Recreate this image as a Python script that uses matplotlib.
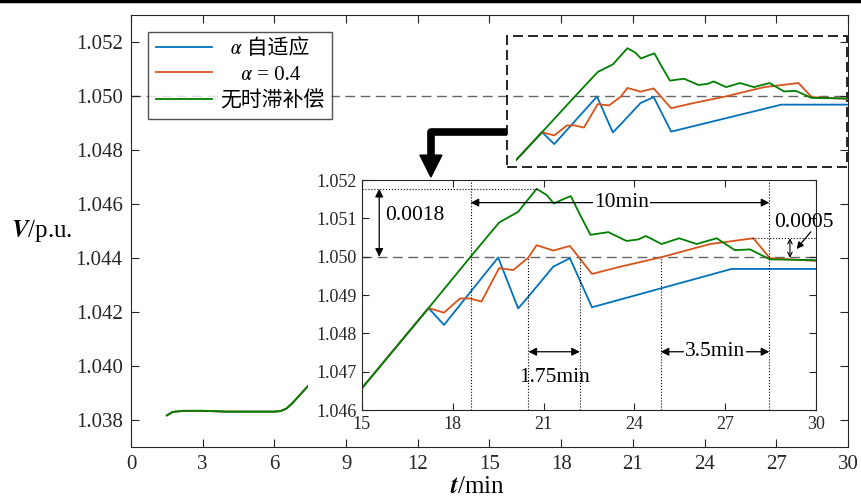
import matplotlib
matplotlib.use('Agg')
import matplotlib.pyplot as plt
from matplotlib.patches import Rectangle, Polygon

plt.rcParams['font.family'] = ['Liberation Serif', 'STIXGeneral', 'Noto Sans CJK SC']
plt.rcParams['mathtext.fontset'] = 'stix'

# Voltage at the bus (p.u.) against time (min)
t_blue = [1.5, 1.75, 2.2, 3.0, 4.0, 5.0, 6.0, 6.25, 6.5, 6.75, 7.4, 15.0, 17.2,
          17.71, 19.5, 20.16, 20.5, 21.32, 21.87, 22.6, 24.86, 27.21, 30.0]
v_blue = [1.03817, 1.03830, 1.03834, 1.03834, 1.03831, 1.03831, 1.03831, 1.03833,
          1.03842, 1.03862, 1.03925, 1.04657, 1.04866,
          1.04822, 1.04998, 1.04865, 1.04896, 1.04974, 1.04996, 1.04868, 1.04917,
          1.04968, 1.04968]

t_orange = [1.5, 1.75, 2.2, 3.0, 4.0, 5.0, 6.0, 6.25, 6.5, 6.75, 7.4, 15.0, 17.2,
            17.71, 18.24, 18.57, 18.95, 19.53, 20.0, 20.5, 20.77, 21.32, 21.87,
            22.6, 23.54, 24.86, 26.5, 27.93, 28.48, 30.0]
v_orange = [1.03817, 1.03830, 1.03834, 1.03834, 1.03831, 1.03831, 1.03831, 1.03833,
            1.03842, 1.03862, 1.03925, 1.04657, 1.04866,
            1.04854, 1.04891, 1.04891, 1.04883, 1.04970, 1.04965, 1.04998, 1.05030,
            1.05016, 1.05028, 1.04955, 1.04974, 1.04998, 1.05033, 1.05048, 1.04996,
            1.04989]

t_green = [1.5, 1.75, 2.2, 3.0, 4.0, 5.0, 6.0, 6.25, 6.5, 6.75, 7.4, 15.0, 17.2,
           18.59, 19.53, 20.16, 20.77, 21.1, 21.34, 21.65, 21.9, 22.18, 22.55, 23.14,
           23.74, 24.13, 24.38, 24.9, 25.48, 26.06, 26.72, 27.32, 27.82, 28.48, 30.0]
v_green = [1.03817, 1.03830, 1.03834, 1.03834, 1.03831, 1.03831, 1.03831, 1.03833,
           1.03842, 1.03862, 1.03925, 1.04657, 1.04866,
           1.05000, 1.05089, 1.05117, 1.05177, 1.05161, 1.05139, 1.05150, 1.05158,
           1.05113, 1.05057, 1.05064, 1.05041, 1.05045, 1.05054, 1.05033, 1.05048,
           1.05033, 1.05048, 1.05017, 1.05019, 1.04993, 1.04991]

labels = ['  \U0001D6FC 自适应', '    \U0001D6FC = 0.4', '无时滞补偿']
colors = ['#0072BD', '#D95319', '#008000']
series = [(t_blue, v_blue), (t_orange, v_orange), (t_green, v_green)]

V_REF = 1.050
dark = '#262626'

fig = plt.figure(figsize=(8.61, 4.97), dpi=100)
ax = fig.add_axes([0.1521, 0.1006, 0.8328, 0.8692])

# main view: early part and the zoomed region are shown, the middle sits under the inset
for (t, v), c, lab in zip(series, colors, labels):
    for k, (x0, x1) in enumerate([(0, 7.4), (16.1, 30.5)]):
        ln, = ax.plot(t, v, color=c, lw=1.3, label=lab if k == 0 else None)
        ln.set_clip_path(Rectangle((x0, 1.03), x1 - x0, 0.03, transform=ax.transData))

ax.axhline(V_REF, color='0.4', lw=1.0, ls=(0, (7, 4)), zorder=1)
ax.add_patch(Rectangle((15.73, 1.04737), 14.23, 0.00485, fill=False, ec='k',
                       lw=1.2, ls=(0, (6, 3))))

# thick pointer from the dashed box to the inset
ax.plot([15.73, 12.55, 12.55], [1.04868, 1.04868, 1.04781], color='k', lw=5.5,
        solid_joinstyle='round', solid_capstyle='butt')
ax.add_patch(Polygon([(12.09, 1.04781), (13.01, 1.04781), (12.55, 1.04700)],
                     closed=True, color='k'))

ax.set_xlim(0, 30)
ax.set_ylim(1.037, 1.053)
ax.set_xticks(range(0, 31, 3))
ax.set_yticks([1.038, 1.040, 1.042, 1.044, 1.046, 1.048, 1.050, 1.052])
ax.set_yticklabels(['%.3f' % y for y in ax.get_yticks()])
ax.tick_params(direction='in', top=True, right=True, length=6, labelsize=15,
               pad=6, color=dark, labelcolor=dark)
for s in ax.spines.values():
    s.set_color(dark)

leg = ax.legend(loc='upper left', bbox_to_anchor=(0.0241, 0.9613), borderaxespad=0,
                fontsize=15, frameon=True, fancybox=False, handlelength=2.7,
                handletextpad=0.4, labelspacing=0.3, borderpad=0.35)
leg.get_frame().set_edgecolor(dark)
leg.get_frame().set_linewidth(1.0)

fig.text(0.0128, 0.535, r'$\mathbfit{V}$/p.u.', fontsize=18, ha='left', va='center')
fig.text(0.554, 0.021, r'$\mathbfit{t}$/min', fontsize=18, ha='center', va='center')

# inset: 15-30 min close-up
ins = fig.add_axes([0.4204, 0.175, 0.5273, 0.4628])
ins.set_facecolor('white')
for (t, v), c in zip(series, colors):
    ins.plot(t, v, color=c, lw=1.3)
ins.axhline(V_REF, color='0.4', lw=1.0, ls=(0, (7, 4)), zorder=1)
ins.set_xlim(15, 30)
ins.set_ylim(1.046, 1.052)
ins.set_xticks(range(15, 31, 3))
ins.set_yticks([1.046, 1.047, 1.048, 1.049, 1.050, 1.051, 1.052])
ins.set_yticklabels(['%.3f' % y for y in ins.get_yticks()])
ins.tick_params(direction='in', top=True, right=True, length=5, labelsize=13,
                pad=4, color=dark, labelcolor=dark)
for s in ins.spines.values():
    s.set_color(dark)

dot = dict(color='k', lw=0.8, ls=':')
ins.plot([15, 20.77], [1.05177, 1.05177], **dot)
ins.plot([27.9, 30], [1.0505, 1.0505], **dot)
for x in [18.59, 28.46]:
    ins.plot([x, x], [1.046, 1.052], **dot)
for x in [20.5, 22.2, 24.87]:
    ins.plot([x, x], [1.046, V_REF], **dot)

arr = dict(arrowstyle='<|-|>', color='k', lw=0.9, mutation_scale=12, shrinkA=0, shrinkB=0)
ins.annotate('', xy=(15.57, 1.05177), xytext=(15.57, V_REF), arrowprops=arr)
ins.text(16.75, 1.05107, '0.0018', fontsize=15.5, ha='center', va='center')

ins.annotate('', xy=(18.59, 1.05141), xytext=(28.46, 1.05141), arrowprops=arr)
ins.text(23.58, 1.05141, '10min', fontsize=15.5, ha='center', va='center',
         bbox=dict(fc='white', ec='none', pad=1))

ins.annotate('', xy=(20.5, 1.04752), xytext=(22.2, 1.04752), arrowprops=arr)
ins.text(21.35, 1.04684, '1.75min', fontsize=15.5, ha='center', va='center')

ins.annotate('', xy=(24.87, 1.04752), xytext=(28.46, 1.04752), arrowprops=arr)
ins.text(26.66, 1.04752, '3.5min', fontsize=15.5, ha='center', va='center',
         bbox=dict(fc='white', ec='none', pad=1))

ins.annotate('', xy=(29.14, 1.05048), xytext=(29.14, 1.04997),
             arrowprops=dict(arrowstyle='<->', color='k', lw=0.8, mutation_scale=8,
                             shrinkA=0, shrinkB=0))
ins.annotate('', xy=(29.36, 1.0502), xytext=(29.83, 1.05065),
             arrowprops=dict(arrowstyle='-|>', color='k', lw=0.9, mutation_scale=10,
                             shrinkA=0, shrinkB=0))
ins.text(29.6, 1.05089, '0.0005', fontsize=15.5, ha='center', va='center', clip_on=False)

fig.add_artist(plt.Line2D([0, 1], [0.998, 0.998], color='k', lw=2.5))

fig.savefig('out.png', dpi=100)
